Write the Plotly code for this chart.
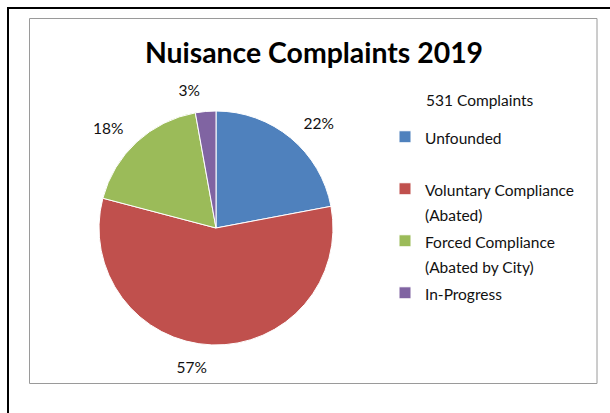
import plotly.graph_objects as go

# ---- data ----
categories = ["Unfounded", "Voluntary Compliance (Abated)",
              "Forced Compliance (Abated by City)", "In-Progress"]
legend_lines = [["Unfounded", " "],
                ["Voluntary Compliance", "(Abated)"],
                ["Forced Compliance", "(Abated by City)"],
                ["In-Progress"]]
values = [117, 303, 96, 15]
colors = ["#4F81BD", "#C0504D", "#9BBB59", "#8064A2"]
title_text = "Nuisance Complaints 2019"

W, H = 610, 413
FONT = "Lato"
TXT = 15.5

def span(s):
    return f"<span style='font-size:{TXT}px'>{s}</span>"

labels = ["<br>".join(span(l) for l in lines) for lines in legend_lines]

def px(x):
    return x / W

def py(y):
    return 1 - y / H

cx, cy, r = 216, 228, 117
r_lab = 130  # radius of the (transparent) label ring

fig = go.Figure()
# visible pie
fig.add_trace(go.Pie(
    labels=labels,
    values=values,
    sort=False,
    direction="clockwise",
    rotation=0,
    marker=dict(colors=colors, line=dict(color="white", width=1)),
    textinfo="none",
    domain=dict(x=[px(cx - r), px(cx + r)], y=[py(cy + r), py(cy - r)]),
    hoverinfo="skip",
    showlegend=True,
))
# transparent pie carrying the percentage labels a bit further out
fig.add_trace(go.Pie(
    labels=labels,
    values=values,
    sort=False,
    direction="clockwise",
    rotation=0,
    hole=0.97,
    marker=dict(colors=["rgba(0,0,0,0)"] * len(values),
                line=dict(color="rgba(0,0,0,0)", width=0)),
    texttemplate="%{percent:.0%}",
    textposition="outside",
    outsidetextfont=dict(family=FONT, size=TXT, color="#111111"),
    domain=dict(x=[px(cx - r_lab), px(cx + r_lab)],
                y=[py(cy + r_lab), py(cy - r_lab)]),
    hoverinfo="skip",
    showlegend=False,
))

fig.add_annotation(
    text=f"{sum(values)} Complaints",
    x=px(424), y=py(100), xref="paper", yref="paper",
    xanchor="left", yanchor="middle", showarrow=False,
    font=dict(family=FONT, size=TXT, color="#111111"),
)

# frames
fig.add_shape(type="rect", xref="paper", yref="paper",
              x0=px(8), y0=py(430), x1=px(640), y1=py(8),
              line=dict(color="black", width=2))
fig.add_shape(type="rect", xref="paper", yref="paper",
              x0=px(29.5), y0=py(383.5), x1=px(597), y1=py(18.5),
              line=dict(color="#9a9a9a", width=1))

fig.update_layout(
    width=W, height=H,
    margin=dict(l=0, r=0, t=0, b=0),
    paper_bgcolor="white", plot_bgcolor="white",
    title=dict(text=f"<b>{title_text}</b>", x=px(314), xanchor="center",
               y=py(53), yanchor="middle", yref="container",
               font=dict(family=FONT, size=28.4, color="black")),
    legend=dict(x=px(385), y=py(118), xanchor="left", yanchor="top",
                valign="top", font=dict(family=FONT, size=18.85, color="#111111"),
                bgcolor="rgba(0,0,0,0)", borderwidth=0),
    showlegend=True,
)

fig.write_html("out.html", config={"displayModeBar": False},
               post_script="document.body.style.margin='0';")
